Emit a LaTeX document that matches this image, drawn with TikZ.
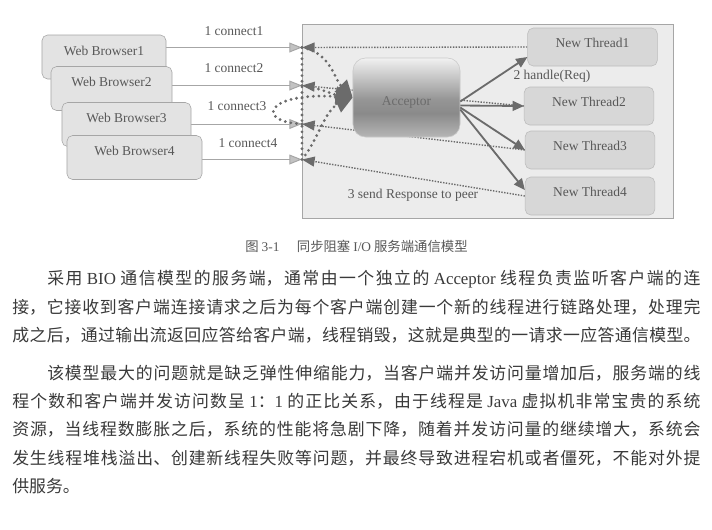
\documentclass[tikz,border=0pt]{standalone}
\usepackage{fontspec}
\setmainfont{Liberation Serif}
\newfontfamily\cjk{Noto Sans CJK SC}
\usepackage{tikz}
\usetikzlibrary{arrows.meta,calc}
\XeTeXlinebreaklocale "zh"
\XeTeXlinebreakskip=0pt plus 3pt
\definecolor{gris}{HTML}{6B6B6B}
\definecolor{grisclair}{HTML}{E3E3E3}
\definecolor{grisfil}{HTML}{D7D7D7}
\definecolor{grisbord}{HTML}{A6A6A6}
\definecolor{grisfond}{HTML}{ECECEC}
\definecolor{grispointe}{HTML}{C2C2C2}
\definecolor{grisfonce}{HTML}{8A8A8A}
\definecolor{encre}{HTML}{3A3A3A}
\definecolor{etiquette}{HTML}{585858}
\newcommand{\ltn}[1]{{\rmfamily #1}}
\pgfdeclareverticalshading{degrade}{100bp}{color(0bp)=(grisclair!80!black); color(25bp)=(grisclair!80!black); color(40bp)=(grisfonce); color(49bp)=(grisfonce!90!white); color(75bp)=(grisclair!50!white); color(100bp)=(grisclair!50!white)}
\pgfdeclarelayer{fond}
\pgfdeclarelayer{traits}
\pgfsetlayers{fond,traits,main}
\tikzset{
  boite/.style={draw=grisbord,rounded corners=4pt,fill=grisclair,align=center,
                font=\fontsize{9.6}{11}\selectfont,text=etiquette,inner ysep=0pt},
  fleche/.style={-{Triangle[length=8pt,width=7pt]},line width=1.3pt,color=gris},
  texte/.style={anchor=base west,inner sep=0pt,text=encre,
                font=\cjk\fontsize{12}{14}\selectfont},
  pleine/.style={texte,text width=17.2cm,align=justify,
                 execute at begin node={\parfillskip=0pt\relax}},
  retrait/.style={pleine,text width=16.325cm},
}
\begin{document}
\begin{tikzpicture}[x=0.025cm,y=-0.025cm,
  n/.style={boite,text height=0.505cm,text depth=0.595cm},
  t/.style={boite,draw=grisbord!75,fill=grisfil,minimum width=3.24cm,text height=0.48cm,text depth=0.47cm},
  lbl/.style={font=\fontsize{9.6}{11}\selectfont,text=etiquette,inner sep=0pt},
  cnx/.style={-{Triangle[length=9pt,width=7pt,fill=grispointe]},draw=grisbord,line width=0.7pt},
  rep/.style={-{Triangle[length=9pt,width=7pt]},gris,line width=1pt,densely dotted},
  acc/.style={-{Triangle[length=12pt,width=12pt]},gris,line width=2.2pt,line cap=round,dash pattern=on 0pt off 4pt}]
  \useasboundingbox (0,0) rectangle (712,529);
  \begin{pgfonlayer}{fond}
    \fill[white] (0,0) rectangle (712,529);
    \node[draw=grisbord,fill=grisfond,minimum width=9.275cm,minimum height=4.85cm,inner sep=0pt] (srv) at (487.5,121) {};
  \end{pgfonlayer}
  \node[n,minimum width=3.1cm] (wb1) at (104,57) {Web Browser1};
  \node[n,minimum width=3.025cm] (wb2) at (111.5,88.5) {Web Browser2};
  \node[n,minimum width=3.225cm] (wb3) at (126.5,124.5) {Web Browser3};
  \node[n,minimum width=3.375cm] (wb4) at (134.5,157.5) {Web Browser4};
  \node[t] (nt1) at (592.5,47) {New Thread1};
  \node[t] (nt2) at (589,106) {New Thread2};
  \node[t] (nt3) at (590,150) {New Thread3};
  \node[t] (nt4) at (590,196) {New Thread4};
  \node[boite,draw=grisbord!60,rounded corners=9pt,shading=degrade,minimum width=2.675cm,
        text height=1.19cm,text depth=0.785cm,text=gris] (acc) at (406.5,97.5) {Acceptor};
  \coordinate (c1) at (302,47.5);
  \coordinate (c2) at (302,85.5);
  \coordinate (c3) at (302,124);
  \coordinate (c4) at (302,159.5);
  \node[lbl] (k1) at (234,31) {1 connect1};
  \node[lbl] (k2) at (234,68) {1 connect2};
  \node[lbl] (k3) at (237,106) {1 connect3};
  \node[lbl] (k4) at (248,143) {1 connect4};
  \node[lbl] (hdl) at (552,76) {2 handle(Req)};
  \node[lbl] (snd) at (413,195) {3 send Response to peer};
  \begin{pgfonlayer}{traits}
    \foreach \i in {1,...,4} {\draw[cnx] (wb\i.east |- c\i) -- (c\i); \draw[rep] (nt\i.west) -- (c\i);}
    \draw[acc] (c1) .. controls (330,52) and (335,80) .. (acc.west);
    \draw[acc] (c2) .. controls (320,88) and (335,95) .. (acc.west);
    \draw[acc] (c3) .. controls (255,122) and (265,92) .. (acc.west);
    \draw[acc] (c4) .. controls (318,140) and (325,110) .. (acc.west);
    \draw[acc,-] (c1) -- (c4);
  \end{pgfonlayer}
  \draw[fleche] ($(acc.east)+(0,4)$) -- ($(nt1.west)+(0,10)$);
  \draw[fleche] ($(acc.east)+(0,8)$) -- (nt2.west);
  \draw[fleche] ($(acc.east)+(0,10)$) -- (nt3.west);
  \draw[fleche] ($(acc.east)+(0,12)$) -- ($(nt4.west)+(0,-6)$);
  \node[font=\cjk\fontsize{9.5}{11}\selectfont,text=etiquette,inner sep=0pt] (leg) at (356.5,246) {图 \ltn{3-1}\hspace{1.3em}同步阻塞 \ltn{I/O} 服务端通信模型};
  \node[retrait] (p1) at (47,284) {采用 \ltn{BIO} 通信模型的服务端，通常由一个独立的 \ltn{Acceptor} 线程负责监听客户端的连};
  \node[pleine] (p2) at (12,313) {接，它接收到客户端连接请求之后为每个客户端创建一个新的线程进行链路处理，处理完};
  \node[pleine] (p3) at (12,341) {成之后，通过输出流返回应答给客户端，线程销毁，这就是典型的一请求一应答通信模型。};
  \node[retrait] (q1) at (47,379) {该模型最大的问题就是缺乏弹性伸缩能力，当客户端并发访问量增加后，服务端的线};
  \node[pleine] (q2) at (12,407) {程个数和客户端并发访问数呈 \ltn{1}：\ltn{1} 的正比关系，由于线程是 \ltn{Java} 虚拟机非常宝贵的系统};
  \node[pleine] (q3) at (12,435) {资源，当线程数膨胀之后，系统的性能将急剧下降，随着并发访问量的继续增大，系统会};
  \node[pleine] (q4) at (12,464) {发生线程堆栈溢出、创建新线程失败等问题，并最终导致进程宕机或者僵死，不能对外提};
  \node[texte] (q5) at (12,492) {供服务。};
\end{tikzpicture}
\end{document}
